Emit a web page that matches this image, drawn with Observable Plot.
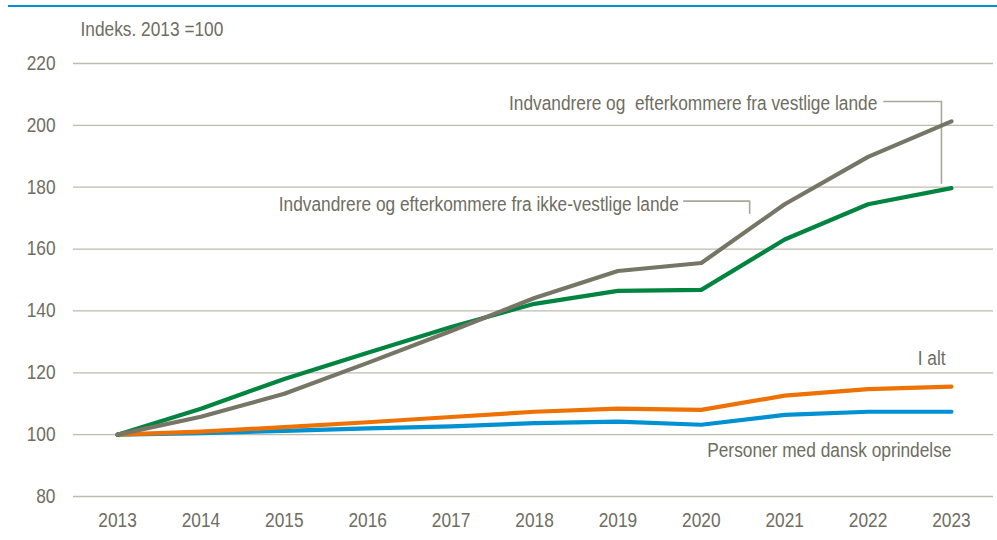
<!DOCTYPE html>
<html><head><meta charset="utf-8">
<script src="https://cdn.jsdelivr.net/npm/d3@7"></script>
<script src="https://cdn.jsdelivr.net/npm/@observablehq/plot@0.6"></script>
<style>
body{margin:0;background:#fff;}
#wrap{position:relative;width:997px;height:540px;}
#topline{position:absolute;top:5px;left:8px;right:0;height:2px;background:#0091d2;}
svg text{white-space:pre;}
</style></head><body>
<div id="wrap"><div id="topline"></div><div id="chart"></div></div>
<script>
const years = [2013,2014,2015,2016,2017,2018,2019,2020,2021,2022,2023];
const dansk    = [100,100.5,101.2,102.0,102.7,103.7,104.2,103.2,106.4,107.4,107.4];
const ialt     = [100,101.0,102.4,104.0,105.7,107.4,108.4,108.0,112.6,114.7,115.5];
const ikkeVest = [100,108.4,118.0,126.5,134.8,142.3,146.5,146.8,163.1,174.5,179.7];
const vest     = [100,105.8,113.2,123.2,133.5,144.2,152.9,155.5,174.5,189.8,201.3];
const yTicks = [80,100,120,140,160,180,200,220];
const yLabel = "Indeks. 2013 =100";

const seriesDefs = [
  {name:"Personer med dansk oprindelse", values:dansk, color:"#0091d2"},
  {name:"I alt", values:ialt, color:"#ee7203"},
  {name:"Indvandrere og efterkommere fra ikke-vestlige lande", values:ikkeVest, color:"#00843f"},
  {name:"Indvandrere og efterkommere fra vestlige lande", values:vest, color:"#777566"}
];
const rows = seriesDefs.flatMap(s => years.map((yr,i)=>({series:s.name, year:yr, value:s.values[i], color:s.color})));

// annotations (data coordinates)
const labels = [
  {text:"Indvandrere og  efterkommere fra vestlige lande", year:2022.11, value:207.1},
  {text:"Indvandrere og efterkommere fra ikke-vestlige lande", year:2019.73, value:174.5},
  {text:"I alt", year:2022.93, value:124.5},
  {text:"Personer med dansk oprindelse", year:2023.0, value:94.8}
];
const leaderA = [{year:2022.19,value:207.7},{year:2022.88,value:207.7},{year:2022.88,value:181.3}];
const leaderB = [{year:2019.79,value:175.5},{year:2020.58,value:175.5},{year:2020.58,value:171.6}];

const textColor = "#6f6d5f";
const font = "'Liberation Sans',Arial,sans-serif";

const chart = Plot.plot({
  width: 997, height: 540,
  marginLeft: 73, marginRight: 4, marginTop: 63, marginBottom: 44,
  style: {fontFamily: font, fontSize: "20px", color: textColor, background:"transparent"},
  x: {domain:[2012.472, 2023.504], ticks: years, tickFormat: d=>String(d), tickSize:0, tickPadding:18, label:null},
  y: {domain:[80,220], ticks: yTicks, tickSize:0, tickPadding:18, label:null},
  marks: [
    Plot.ruleY(yTicks, {stroke:"#bdbbae", strokeWidth:1.3, strokeOpacity:1}),
    Plot.axisX({ticks: years, tickFormat: d=>String(d), tickSize:0, tickPadding:16, fontSize:20, fill:textColor, label:null}),
    Plot.axisY({ticks: yTicks, tickSize:0, tickPadding:18, fontSize:20, fill:textColor, label:null}),
    Plot.line(leaderA, {x:"year", y:"value", stroke:"#a9a797", strokeWidth:1.6}),
    Plot.line(leaderB, {x:"year", y:"value", stroke:"#a9a797", strokeWidth:1.6}),
    Plot.line(rows, {x:"year", y:"value", z:"series", stroke:"color", strokeWidth:4.2, strokeLinecap:"round", strokeLinejoin:"round"}),
    Plot.text(labels, {x:"year", y:"value", text:"text", textAnchor:"end", lineAnchor:"middle", fill:textColor, fontSize:20}),
    Plot.text([yLabel], {frameAnchor:"top-left", dx:7, dy:-34, lineAnchor:"middle", textAnchor:"start", fill:textColor, fontSize:20})
  ]
});
document.getElementById("chart").appendChild(chart);
// emulate the narrow typeface of the original by condensing glyphs horizontally
chart.querySelectorAll("text").forEach(t => {
  const w = t.getComputedTextLength();
  if (w > 0) {
    t.setAttribute("textLength", (w * 0.865).toFixed(2));
    t.setAttribute("lengthAdjust", "spacingAndGlyphs");
  }
});
</script>
</body></html>
